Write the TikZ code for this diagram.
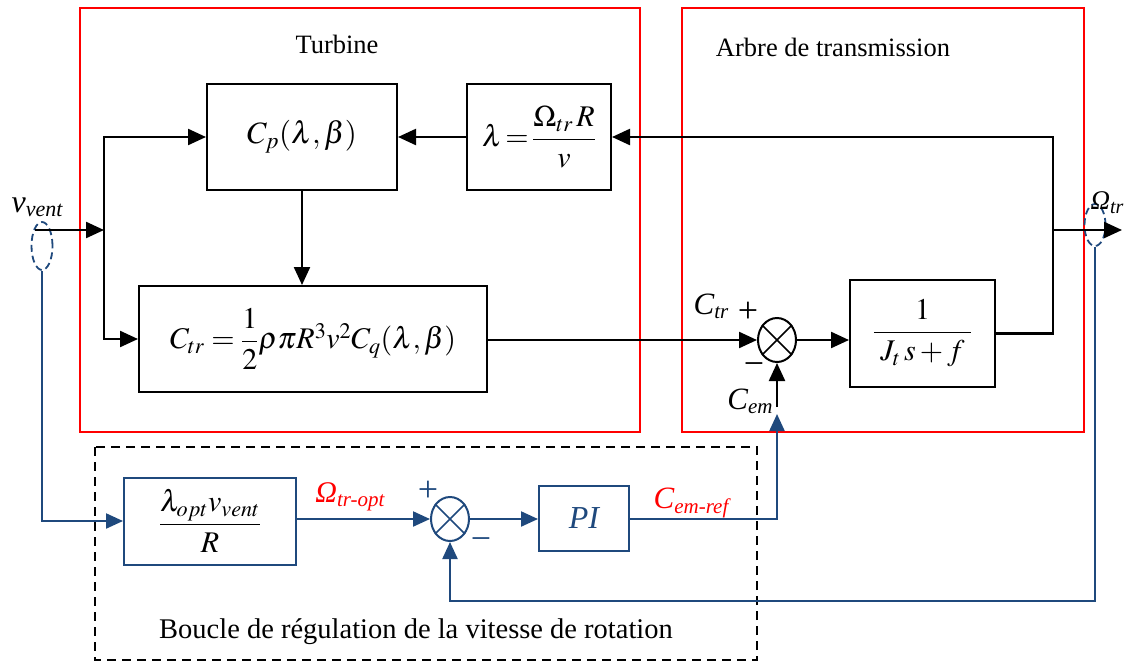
\documentclass[tikz,border=0pt]{standalone}
\usepackage{amsmath}
\usepackage{mathptmx}
\usepackage[no-math]{fontspec}
\setmainfont{Liberation Serif}
\usetikzlibrary{arrows.meta,shapes.geometric,calc}
\definecolor{ctrlblue}{RGB}{31,73,125}
\newcommand{\fs}[1]{\fontsize{#1}{#1}\selectfont}
\begin{document}
\begin{tikzpicture}[x=1pt,y=-1pt,
  blk/.style={draw, line width=2pt, inner sep=0pt, font=\fs{31}},
  bblk/.style={draw=ctrlblue, line width=2pt, inner sep=0pt, font=\fs{30}},
  arr/.style={-{Triangle[length=18pt,width=16pt]}, line width=2.3pt},
  barr/.style={-{Triangle[length=17pt,width=15pt]}, line width=2.2pt, draw=ctrlblue},
  sumj/.style={ellipse, draw, line width=2pt, minimum width=38pt, minimum height=44pt, inner sep=0pt},
  probe/.style={ellipse, draw=ctrlblue, line width=1.8pt, dash pattern=on 7pt off 4pt, minimum width=21pt, minimum height=48pt, inner sep=0pt},
  frame/.style={draw=red, line width=1.7pt},
  lbl/.style={inner sep=0pt, font=\fs{26.5}}
]
\useasboundingbox (0,0) rectangle (1129,664);

% subsystem frames
\draw[frame] (80,8) rectangle (640,432);
\draw[frame] (682,8) rectangle (1084,432);
\draw[line width=1.7pt, dash pattern=on 9pt off 6pt] (95,447) rectangle (757,660);

\node[lbl] (tturb) at (337,44) {Turbine};
\node[lbl] (tarbre) at (833,47) {Arbre de transmission};
\node[lbl, font=\fs{28.5}] (tboucle) at (416,632) {Boucle de régulation de la vitesse de rotation};

% turbine blocks
\node[blk, minimum width=190pt, minimum height=106pt] (cp) at (302,137) {$C_p(\lambda,\beta)$};
\node[blk, minimum width=144pt, minimum height=106pt, font=\fs{30}] (lam) at (539,137) {$\lambda\!=\!\dfrac{\Omega_{tr}\,R}{v}$};
\node[blk, minimum width=348pt, minimum height=106pt, font=\fs{30}] (ctr) at (313,339) {$C_{tr}=\dfrac{1}{2}\rho\pi R^3v^2C_q(\lambda,\beta)$};

% shaft blocks
\node[sumj] (sum) at (777,340) {};
\draw[line width=1.7pt] (sum.45) -- (sum.225) (sum.135) -- (sum.315);
\node[blk, minimum width=145pt, minimum height=107pt, font=\fs{30}] (tf) at (922.5,333.5) {$\dfrac{1}{\;J_t\,s+f\;}$};

% speed control loop blocks
\node[bblk, minimum width=172pt, minimum height=87pt] (lopt) at (210,521) {$\dfrac{\lambda_{opt}v_{vent}}{R}$};
\node[sumj, draw=ctrlblue] (sum2) at (450,519) {};
\draw[ctrlblue, line width=1.7pt] (sum2.45) -- (sum2.225) (sum2.135) -- (sum2.315);
\node[bblk, minimum width=90pt, minimum height=65pt, text=ctrlblue, font=\fs{32}\itshape] (pi) at (584,518) {PI};

% measurement points
\node[probe] (vel) at (42,246) {};
\node[probe, minimum height=42pt] (wel) at (1095,225) {};

% coordinates
\coordinate (vin) at (35,230);
\coordinate (sp) at (104,230);
\coordinate (fb) at (1053,230);
\coordinate (wout) at (1122,230);
\coordinate (cem) at (777,407);
\coordinate (cemref) at (777,414);
\coordinate (fbb) at (1095,601);

% turbine / shaft signal flow
\draw[arr] (vin) -- (sp);
\draw[arr] (sp) |- (cp.west);
\draw[arr] (sp) |- (ctr.west);
\draw[arr] (cp.south) -- (cp.south |- ctr.north);
\draw[arr] (lam.west) -- (cp.east);
\draw[arr] (ctr.east |- sum.west) -- (sum.west);
\draw[arr] (sum.east) -- (sum.east -| tf.west);
\draw[line width=2.3pt] (tf.east) -| (fb);
\draw[arr] (fb) |- (lam.east);
\draw[arr] (fb) -- (wout);
\draw[arr] (cem) -- (sum.south);

% control loop signal flow
\draw[barr] (vel.south) |- (lopt.west);
\draw[barr] (lopt.east |- sum2.west) -- (sum2.west);
\draw[barr] (sum2.east) -- (sum2.east -| pi.west);
\draw[barr] (pi.east |- sum2.east) -| (cemref);
\draw[barr] (wel.south) -- (fbb) -| (sum2.south);

% signal labels
\node[inner sep=0pt, font=\fs{32}\itshape] (lv) at (37,207) {v\raisebox{-0.3ex}{\fs{22}vent}};
\node[inner sep=0pt, font=\fs{27}\itshape] (lw) at (1107,203) {Ω\raisebox{-0.3ex}{\fs{20}tr}};
\node[inner sep=0pt, font=\fs{31}\itshape] (lctr) at (711,306) {C\raisebox{-0.3ex}{\fs{21}tr}};
\node[inner sep=0pt, font=\fs{31}\itshape] (lcem) at (750,401) {C\raisebox{-0.3ex}{\fs{21}em}};
\node[inner sep=0pt, font=\fs{30}\itshape, text=red] (lwopt) at (350,497) {Ω\raisebox{-0.3ex}{\fs{21}tr-opt}};
\node[inner sep=0pt, font=\fs{31}\itshape, text=red] (lcref) at (691,503) {C\raisebox{-0.3ex}{\fs{21}em-ref}};

% signs
\node[inner sep=0pt, font=\fs{36}] (p1) at (748,312) {+};
\node[inner sep=0pt, font=\fs{36}] (m1) at (754,369) {−};
\node[inner sep=0pt, font=\fs{36}, text=ctrlblue] (p2) at (428,491) {+};
\node[inner sep=0pt, font=\fs{36}, text=ctrlblue] (m2) at (481,544) {−};
\end{tikzpicture}
\end{document}
